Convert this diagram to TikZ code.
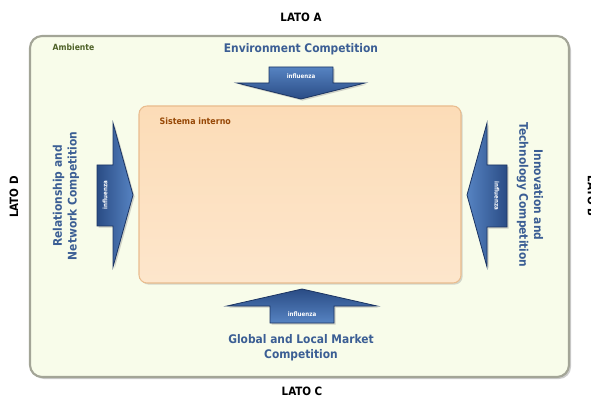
\documentclass[tikz,border=0pt]{standalone}
\usepackage{fontspec}
\setmainfont{DejaVu Sans Condensed}
\usetikzlibrary{shadows}

\definecolor{envfill}{HTML}{F8FCEA}
\definecolor{envline}{HTML}{A3A597}
\definecolor{sysfill}{HTML}{FCDCB7}
\definecolor{syslow}{HTML}{FDE6CC}
\definecolor{sysline}{HTML}{E9BC8E}
\definecolor{compblue}{HTML}{3B5E94}
\definecolor{flowdark}{HTML}{2A4C85}
\definecolor{flowlight}{HTML}{5683C2}
\definecolor{flowline}{HTML}{1B3462}
\definecolor{envtext}{HTML}{4F6228}
\definecolor{systext}{HTML}{974806}

\begin{document}
\begin{tikzpicture}[x=0.75pt, y=-0.75pt,
  side/.style={font=\bfseries\fontsize{8.6}{10}\selectfont},
  comp/.style={text=compblue, align=center, font=\bfseries\fontsize{8.9}{11}\selectfont},
  flow/.style={draw=flowline, line width=0.6pt, line join=miter,
    drop shadow={shadow xshift=1.2pt, shadow yshift=-1.2pt, opacity=0.35}},
  tag/.style={text=white, font=\bfseries\fontsize{4.6}{5}\selectfont}]

\useasboundingbox (0, 0) rectangle (591, 398);

% ambiente e sistema interno
\draw [rounded corners=9pt, fill=envfill, draw=envline, line width=1.6pt,
  drop shadow={shadow xshift=1.5pt, shadow yshift=-1.5pt, opacity=0.4}] (30, 36) rectangle (569, 377);
\draw [rounded corners=6pt, draw=sysline, line width=0.8pt, top color=sysfill, bottom color=syslow,
  drop shadow={shadow xshift=1.2pt, shadow yshift=-1.2pt, opacity=0.3}] (139, 106) rectangle (461, 283);

\node [text=envtext, anchor=west, font=\bfseries\fontsize{6.4}{8}\selectfont] (amb) at (48, 47) {Ambiente};
\node [text=systext, anchor=west, font=\bfseries\fontsize{6.6}{8}\selectfont] (sys) at (155, 121) {Sistema interno};

% lati
\node [side] (latoA) at (301, 17) {LATO A};
\node [side] (latoC) at (302, 391) {LATO C};
\node [side, rotate=90] (latoD) at (14, 197) {LATO D};
\node [side, rotate=-90] (latoB) at (592, 196) {LATO B};

% frecce
\draw [flow, shading=axis, top color=flowlight, bottom color=flowdark]
  (269, 67) -- (333, 67) -- (333, 83) -- (365, 83) -- (301, 99) -- (237, 83) -- (269, 83) -- cycle;
\draw [flow, shading=axis, top color=flowdark, bottom color=flowlight]
  (270, 323) -- (334, 323) -- (334, 306) -- (377, 306) -- (302, 289) -- (227, 306) -- (270, 306) -- cycle;
\draw [flow, shading=axis, left color=flowdark, right color=flowlight]
  (97, 165) -- (97, 226) -- (113, 226) -- (113, 267) -- (133, 195) -- (113, 123) -- (113, 165) -- cycle;
\draw [flow, shading=axis, left color=flowlight, right color=flowdark]
  (507, 165) -- (507, 227) -- (487, 227) -- (487, 267) -- (467, 195) -- (487, 123) -- (487, 165) -- cycle;

\node [tag] (inA) at (301, 76) {influenza};
\node [tag] (inC) at (302, 314) {influenza};
\node [tag, rotate=90] (inD) at (105, 195) {influenza};
\node [tag, rotate=-90] (inB) at (497, 196) {influenza};

% competizioni
\node [comp] (envc) at (301, 49) {Environment Competition};
\node [comp] (glob) at (301, 348) {Global and Local Market\\Competition};
\node [comp, rotate=90] (rel) at (66, 196) {Relationship and\\Network Competition};
\node [comp, rotate=-90] (inno) at (530, 195) {Innovation and\\Technology Competition};

\end{tikzpicture}
\end{document}
